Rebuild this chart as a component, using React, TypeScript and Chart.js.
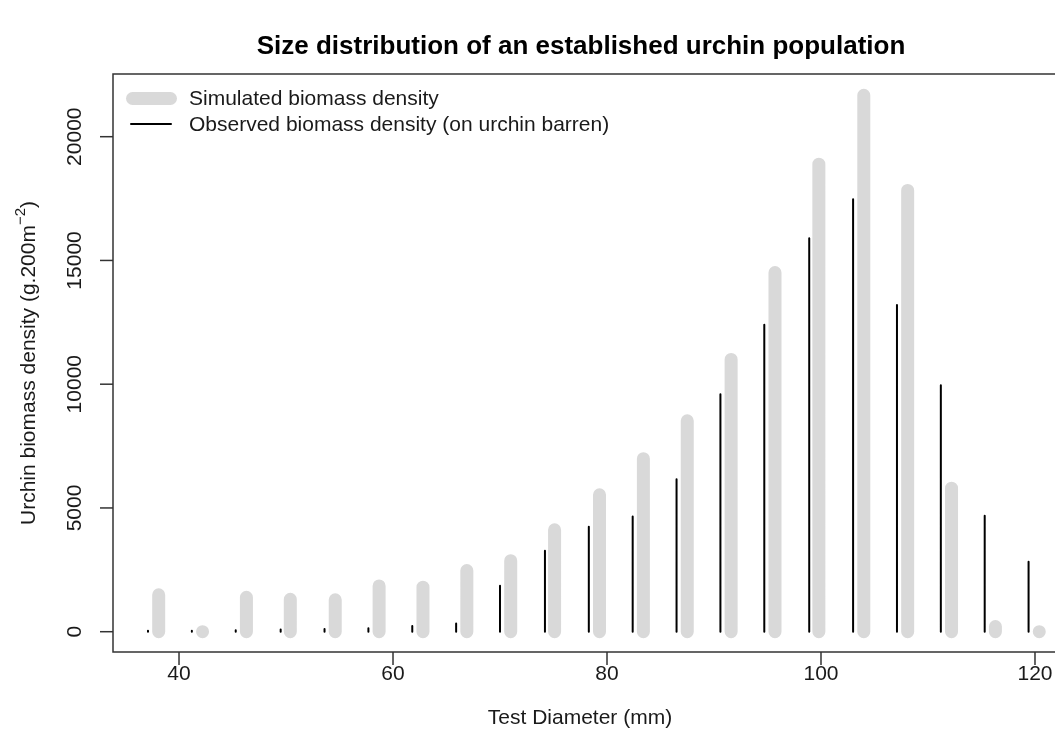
import React, { useEffect, useRef } from "react";
import { Chart, registerables } from "chart.js";

Chart.register(...registerables);

// ---- data ----
const xSimulated = [38.1, 42.2, 46.3, 50.4, 54.6, 58.7, 62.8, 66.9, 71.0, 75.1, 79.3, 83.4, 87.5, 91.6, 95.7, 99.8, 104.0, 108.1, 112.2, 116.3, 120.4];
const simulated = [1490, 0, 1390, 1310, 1290, 1850, 1800, 2470, 2870, 4120, 5530, 6990, 8520, 11000, 14510, 18890, 21670, 17830, 5800, 210, 0];
const xObserved = [37.1, 41.2, 45.3, 49.5, 53.6, 57.7, 61.8, 65.9, 70.0, 74.2, 78.3, 82.4, 86.5, 90.6, 94.7, 98.9, 103.0, 107.1, 111.2, 115.3, 119.4];
const observed = [40, 40, 60, 90, 110, 140, 230, 330, 1860, 3270, 4240, 4650, 6160, 9590, 12400, 15900, 17470, 13200, 9960, 4680, 2830];
const xTicks = [40, 60, 80, 100, 120];
const yTicks = [0, 5000, 10000, 15000, 20000];

const TITLE = "Size distribution of an established urchin population";
const X_LABEL = "Test Diameter (mm)";
const Y_LABEL_MAIN = "Urchin biomass density (g.200m";
const Y_LABEL_SUP = "\u22122";
const Y_LABEL_END = ")";
const LEGEND_SIM = "Simulated biomass density";
const LEGEND_OBS = "Observed biomass density (on urchin barren)";

const GRAY = "#d9d9d9";
const FONT = "'Liberation Sans', Arial, Helvetica, sans-serif";
const TEXT_COLOR = "#1a1a1a";
const FS = 21;

// build vertical "type = h" segments (0 -> value) separated by gaps
function spikes(xs: number[], ys: number[]) {
  const out: { x: number; y: number | null }[] = [];
  xs.forEach((x, i) => {
    out.push({ x, y: 0 });
    out.push({ x, y: ys[i] });
    out.push({ x, y: null });
  });
  return out;
}

const decorPlugin = {
  id: "rDecor",
  afterDraw(chart: any) {
    const { ctx, chartArea, scales } = chart;
    const xs = scales.x;
    const ys = scales.y;
    const L = chartArea.left, R = chartArea.right, T = chartArea.top, B = chartArea.bottom;
    ctx.save();
    // box (right side falls outside the picture)
    ctx.strokeStyle = "#333";
    ctx.lineWidth = 1.5;
    ctx.beginPath();
    ctx.moveTo(R + 5, T);
    ctx.lineTo(L, T);
    ctx.lineTo(L, B);
    ctx.lineTo(R + 5, B);
    ctx.stroke();

    // x ticks
    ctx.fillStyle = TEXT_COLOR;
    ctx.font = `${FS}px ${FONT}`;
    ctx.textAlign = "center";
    ctx.textBaseline = "middle";
    xTicks.forEach((v) => {
      const px = xs.getPixelForValue(v);
      ctx.beginPath();
      ctx.moveTo(px, B);
      ctx.lineTo(px, B + 13);
      ctx.stroke();
      ctx.fillText(String(v), px, B + 22);
    });
    // y ticks
    yTicks.forEach((v) => {
      const py = ys.getPixelForValue(v);
      ctx.beginPath();
      ctx.moveTo(L, py);
      ctx.lineTo(L - 13, py);
      ctx.stroke();
      ctx.save();
      ctx.translate(L - 38, py);
      ctx.rotate(-Math.PI / 2);
      ctx.fillText(String(v), 0, 0);
      ctx.restore();
    });

    // x label
    const cx = 580;
    ctx.fillText(X_LABEL, cx, B + 66);

    // y label with superscript
    ctx.save();
    ctx.translate(29, (T + B) / 2);
    ctx.rotate(-Math.PI / 2);
    ctx.textAlign = "left";
    ctx.font = `${FS}px ${FONT}`;
    const w1 = ctx.measureText(Y_LABEL_MAIN).width;
    const w3 = ctx.measureText(Y_LABEL_END).width;
    ctx.font = `15px ${FONT}`;
    const w2 = ctx.measureText(Y_LABEL_SUP).width;
    let sx = -(w1 + w2 + w3) / 2;
    ctx.font = `${FS}px ${FONT}`;
    ctx.fillText(Y_LABEL_MAIN, sx, 0);
    sx += w1;
    ctx.font = `15px ${FONT}`;
    ctx.fillText(Y_LABEL_SUP, sx, -8);
    sx += w2;
    ctx.font = `${FS}px ${FONT}`;
    ctx.fillText(Y_LABEL_END, sx, 0);
    ctx.restore();

    // title
    ctx.font = `bold 26px ${FONT}`;
    ctx.fillStyle = "#000";
    ctx.fillText(TITLE, cx + 1, 47);

    // legend
    ctx.lineCap = "round";
    ctx.strokeStyle = GRAY;
    ctx.lineWidth = 13;
    ctx.beginPath();
    ctx.moveTo(132.5, 98.5);
    ctx.lineTo(170.5, 98.5);
    ctx.stroke();
    ctx.strokeStyle = "#000";
    ctx.lineWidth = 2;
    ctx.beginPath();
    ctx.moveTo(131, 124);
    ctx.lineTo(171, 124);
    ctx.stroke();
    ctx.fillStyle = TEXT_COLOR;
    ctx.font = `${FS}px ${FONT}`;
    ctx.textAlign = "left";
    ctx.fillText(LEGEND_SIM, 189, 99);
    ctx.fillText(LEGEND_OBS, 189, 125);
    ctx.restore();
  },
};

export default function App() {
  const ref = useRef<HTMLCanvasElement>(null);
  useEffect(() => {
    if (!ref.current) return;
    const chart = new Chart(ref.current, {
      type: "line",
      data: {
        datasets: [
          {
            label: LEGEND_SIM,
            data: spikes(xSimulated, simulated) as any,
            borderColor: GRAY,
            borderWidth: 13,
            borderCapStyle: "round",
            pointRadius: 0,
            spanGaps: false,
            tension: 0,
          },
          {
            label: LEGEND_OBS,
            data: spikes(xObserved, observed) as any,
            borderColor: "#000",
            borderWidth: 2,
            borderCapStyle: "round",
            pointRadius: 0,
            spanGaps: false,
            tension: 0,
          },
        ],
      },
      options: {
        animation: false,
        responsive: false,
        maintainAspectRatio: false,
        layout: { padding: { left: 113, top: 74, right: 0, bottom: 103 } },
        scales: {
          x: { type: "linear", display: false, min: 33.83, max: 121.87 },
          y: { type: "linear", display: false, min: -820, max: 22533 },
        },
        plugins: {
          legend: { display: false },
          tooltip: { enabled: false },
          title: { display: false },
        },
      },
      plugins: [decorPlugin],
    });
    return () => chart.destroy();
  }, []);
  return (
    <div style={{ position: "absolute", left: 0, top: 0, width: 1055, height: 755, background: "#fff" }}>
      <canvas ref={ref} width={1055} height={755} style={{ width: 1055, height: 755, display: "block" }} />
    </div>
  );
}
